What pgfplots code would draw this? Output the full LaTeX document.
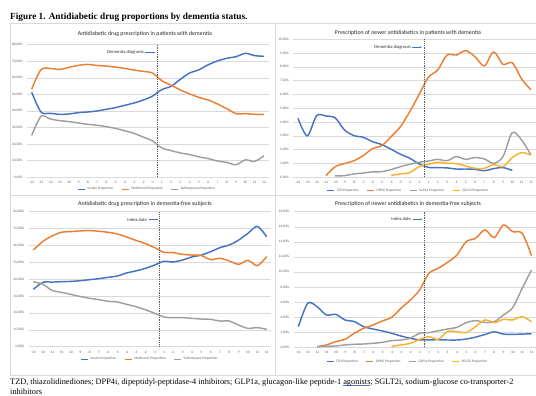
\documentclass[border=0pt]{standalone}
\usepackage{fontspec}
\setmainfont{Carlito}
\newfontfamily\timesfont{Liberation Serif}
\usepackage{pgfplots}
\pgfplotsset{compat=1.18}
\usetikzlibrary{arrows.meta}
\definecolor{xblue}{HTML}{4472C4}
\definecolor{xorange}{HTML}{ED7D31}
\definecolor{xgray}{HTML}{9E9E9E}
\definecolor{xgold}{HTML}{FBB02A}
\definecolor{xgrid}{HTML}{D9D9D9}
\definecolor{xtext}{HTML}{595959}
\definecolor{xframe}{HTML}{D9D9D9}
\definecolor{ulblue}{HTML}{5B6FC0}
\newsavebox{\ulbox}
\newcommand{\blueul}[1]{\sbox{\ulbox}{#1}\rlap{\textcolor{ulblue}{\rule[-1.4pt]{\wd\ulbox}{0.45pt}}}\usebox{\ulbox}}

\pgfplotsset{
  panel/.style={
    scale only axis, anchor=south west,
    xmin=-0.5, xmax=25.5, ymin=0,
    xtick={0,...,25},
    xticklabels={-14,-13,-12,-11,-10,-9,-8,-7,-6,-5,-4,-3,-2,-1,1,2,3,4,5,6,7,8,9,10,11,12},
    major tick length=0pt,
    axis line style={draw=none},
    ymajorgrids, grid style={xgrid, line width=0.45pt},
    tick label style={font=\fontsize{3.5}{4}\selectfont, text=xtext, inner sep=0pt},
    xticklabel style={yshift=-4pt},
    yticklabel style={xshift=-4.3pt},
    clip=false,
    every axis plot/.append style={line width=1.45pt, smooth, mark=none},
    legend style={draw=none, fill=none, font=\fontsize{3.5}{4}\selectfont, text=xtext,
      legend columns=-1, anchor=center, inner sep=0pt,
      /tikz/every even column/.append style={column sep=6pt}},
    legend image code/.code={\draw[#1, line width=1.1pt] (0pt,0pt) -- (7pt,0pt);},
  },
  pctA/.style={ymax=80, ytick={0,10,...,80},
    yticklabels={{0,00\%},{10,00\%},{20,00\%},{30,00\%},{40,00\%},{50,00\%},{60,00\%},{70,00\%},{80,00\%}}},
}
\newcommand{\charttitle}{\fontsize{5.9}{6.5}\selectfont\color{black!85}}
\newcommand{\annot}{\fontsize{4.6}{5}\selectfont\color{black!80}}

\begin{document}
\begin{tikzpicture}[x=1pt,y=1pt]
\path[use as bounding box] (0,0) rectangle (536,396);

% frames
\draw[xframe, line width=0.5pt] (10,373) -- (540,373);
\draw[xframe, line width=0.5pt] (10,201) -- (540,201);
\draw[xframe, line width=0.5pt] (10,21) -- (540,21);
\draw[xframe, line width=0.5pt] (10,373) -- (10,21);
\draw[xframe, line width=0.5pt] (275,373) -- (275,21);

% figure title
\node[anchor=base west, inner sep=0pt, font=\timesfont\bfseries\fontsize{9.3}{11}\selectfont] at (10,376) {Figure 1. Antidiabetic drug proportions by dementia status.};

% caption
\node[anchor=base west, inner sep=0pt, font=\timesfont\fontsize{8.3}{10}\selectfont] at (10,11.5) {TZD, thiazolidinediones; DPP4i, dipeptidyl-peptidase-4 inhibitors; GLP1a, glucagon-like peptide-1 \blueul{agonists}; SGLT2i, sodium-glucose co-transporter-2};
\node[anchor=base west, inner sep=0pt, font=\timesfont\fontsize{8.3}{10}\selectfont] at (10,1.8) {inhibitors};

% chart titles
\node[font=\charttitle] at (145,362) {Antidiabetic drug prescription in patients with dementia};
\node[font=\charttitle] at (408,363) {Prescription of newer antidiabetics in patients with dementia};
\node[font=\charttitle] at (145,191.7) {Antidiabetic drug prescription in dementia-free subjects};
\node[font=\charttitle] at (408,191.7) {Prescription of newer antidiabetics in dementia-free subjects};

% ---------------- top left
\begin{axis}[panel, pctA, at={(27.05pt,218.7pt)}, width=241.6pt, height=132.6pt,
  legend style={at={(0.497,0)}, yshift=-12pt}]
\addplot[xblue] coordinates {(0,51.3)(1,39.4)(2,38.6)(3,38.0)(4,38.2)(5,39.0)(6,39.4)(7,40.0)(8,41.0)(9,42.0)(10,43.4)(11,44.8)(12,46.6)(13,49.0)(14,52.9)(15,54.9)(16,59.1)(17,62.9)(18,64.9)(19,67.9)(20,70.2)(21,71.8)(22,72.8)(23,74.8)(24,73.4)(25,73.0)};
\addlegendentry{Insulin Proportion}
\addplot[xorange] coordinates {(0,53.3)(1,64.9)(2,65.7)(3,65.1)(4,66.3)(5,67.5)(6,68.1)(7,67.5)(8,67.1)(9,66.5)(10,65.7)(11,64.7)(12,63.9)(13,62.9)(14,58.3)(15,55.5)(16,52.7)(17,50.3)(18,48.2)(19,46.6)(20,44.2)(21,41.4)(22,38.4)(23,38.4)(24,38.0)(25,38.0)};
\addlegendentry{Metformin Proportion}
\addplot[xgray] coordinates {(0,25.3)(1,36.8)(2,35.2)(3,34.2)(4,33.6)(5,32.8)(6,32.0)(7,31.4)(8,30.6)(9,29.5)(10,28.1)(11,26.5)(12,24.3)(13,21.9)(14,17.7)(15,16.1)(16,14.7)(17,13.7)(18,12.3)(19,11.3)(20,9.8)(21,9.0)(22,7.6)(23,10.5)(24,9.6)(25,13.0)};
\addlegendentry{Sulfonylurea Proportion}
\draw[black!65, line width=0.45pt, dash pattern=on 1pt off 0.8pt] (axis cs:13.5,0) -- (axis cs:13.5,80);
\node[anchor=east, inner sep=0pt, font=\annot] at (axis cs:12.1,75.2) {Dementia diagnosis};
\draw[xblue, line width=0.4pt, -{Stealth[length=2pt,width=1.6pt]}] (axis cs:12.2,75.2) -- (axis cs:13.3,75.2);
\end{axis}

% ---------------- top right
\begin{axis}[panel, at={(293.3pt,218.7pt)}, width=242.3pt, height=138pt,
  ymax=10, ytick={0,1,...,10},
  yticklabels={{0,00\%},{1,00\%},{2,00\%},{3,00\%},{4,00\%},{5,00\%},{6,00\%},{7,00\%},{8,00\%},{9,00\%},{10,00\%}},
  legend style={at={(0.475,0)}, yshift=-13.4pt}]
\addplot[xblue] coordinates {(0,4.28)(1,3.0)(2,4.47)(3,4.44)(4,4.3)(5,3.43)(6,3.02)(7,2.9)(8,2.58)(9,2.37)(10,2.03)(11,1.67)(12,1.38)(13,0.97)(14,0.72)(15,0.70)(16,0.68)(17,0.60)(18,0.60)(19,0.58)(20,0.48)(21,0.63)(22,0.70)(23,0.50)};
\addlegendentry{TZD Proportion}
\addplot[xorange] coordinates {(3,0.12)(4,0.77)(5,1.0)(6,1.2)(7,1.57)(8,2.08)(9,2.3)(10,2.95)(11,3.67)(12,4.76)(13,6.0)(14,7.25)(15,7.78)(16,8.86)(17,8.86)(18,9.18)(19,8.74)(20,8.07)(21,9.08)(22,8.19)(23,8.3)(24,7.13)(25,6.33)};
\addlegendentry{DPP4i Proportion}
\addplot[xgray] coordinates {(4,0.1)(5,0.12)(6,0.24)(7,0.31)(8,0.39)(9,0.41)(10,0.56)(11,0.77)(12,0.94)(13,1.09)(14,1.18)(15,1.3)(16,1.2)(17,1.5)(18,1.3)(19,1.43)(20,1.33)(21,1.01)(22,1.5)(23,3.24)(24,2.7)(25,1.62)};
\addlegendentry{GLP1a Proportion}
\addplot[xgold] coordinates {(10,0.14)(11,0.24)(12,0.34)(13,0.77)(14,0.94)(15,1.09)(16,1.01)(17,0.99)(18,0.82)(19,0.65)(20,0.65)(21,0.92)(22,0.77)(23,1.43)(24,1.79)(25,1.62)};
\addlegendentry{SGLT2i Proportion}
\draw[black!65, line width=0.45pt, dash pattern=on 1pt off 0.8pt] (axis cs:13.5,0) -- (axis cs:13.5,10);
\node[anchor=east, inner sep=0pt, font=\annot] at (axis cs:12.15,9.44) {Dementia diagnosis};
\draw[xblue, line width=0.4pt, -{Stealth[length=2pt,width=1.6pt]}] (axis cs:12.25,9.44) -- (axis cs:13.3,9.44);
\end{axis}

% ---------------- bottom left
\begin{axis}[panel, pctA, at={(28.7pt,49.3pt)}, width=242.6pt, height=135pt,
  legend style={at={(0.5,0)}, yshift=-12.6pt}]
\addplot[xblue] coordinates {(0,34.0)(1,38.1)(2,38.3)(3,38.5)(4,38.7)(5,39.1)(6,39.7)(7,40.3)(8,41.1)(9,41.9)(10,43.7)(11,44.9)(12,46.4)(13,48.4)(14,50.6)(15,50.2)(16,51.4)(17,53.2)(18,54.3)(19,56.3)(20,58.7)(21,60.3)(22,63.2)(23,67.2)(24,71.3)(25,65.2)};
\addlegendentry{Insulin Proportion}
\addplot[xorange] coordinates {(0,57.3)(1,62.3)(2,65.6)(3,67.8)(4,68.2)(5,68.6)(6,68.8)(7,68.4)(8,67.8)(9,66.8)(10,65.0)(11,63.0)(12,61.1)(13,58.7)(14,55.9)(15,55.7)(16,54.7)(17,54.3)(18,54.0)(19,51.6)(20,52.4)(21,50.8)(22,48.8)(23,51.2)(24,48.0)(25,53.4)};
\addlegendentry{Metformin Proportion}
\addplot[xgray] coordinates {(0,38.5)(1,37.0)(2,33.4)(3,32.2)(4,31.0)(5,29.8)(6,28.7)(7,27.9)(8,26.9)(9,26.5)(10,25.1)(11,23.7)(12,21.9)(13,19.8)(14,17.6)(15,17.2)(16,17.2)(17,16.8)(18,16.4)(19,16.2)(20,15.2)(21,15.2)(22,12.8)(23,10.9)(24,11.3)(25,10.3)};
\addlegendentry{Sulfonylurea Proportion}
\draw[black!65, line width=0.45pt, dash pattern=on 1pt off 0.8pt] (axis cs:13.5,0) -- (axis cs:13.5,80);
\node[anchor=east, inner sep=0pt, font=\annot] at (axis cs:12.2,75.3) {Index date};
\draw[xblue, line width=0.4pt, -{Stealth[length=2pt,width=1.6pt]}] (axis cs:12.4,75.3) -- (axis cs:13.4,75.3);
\end{axis}

% ---------------- bottom right
\begin{axis}[panel, at={(293.7pt,48.7pt)}, width=242.5pt, height=135.6pt,
  ymax=18, ytick={0,2,...,18},
  yticklabels={{0,00\%},{2,00\%},{4,00\%},{6,00\%},{8,00\%},{10,00\%},{12,00\%},{14,00\%},{16,00\%},{18,00\%}},
  legend style={at={(0.47,0)}, yshift=-14.4pt}]
\addplot[xblue] coordinates {(0,2.74)(1,5.84)(2,5.4)(3,4.29)(4,4.38)(5,3.63)(6,3.41)(7,2.74)(8,2.43)(9,2.17)(10,1.86)(11,1.5)(12,1.19)(13,0.99)(14,0.99)(15,1.0)(16,0.97)(17,0.97)(18,1.1)(19,1.35)(20,1.7)(21,2.05)(22,1.75)(23,1.72)(24,1.75)(25,1.8)};
\addlegendentry{TZD Proportion}
\addplot[xorange] coordinates {(2,0.09)(3,0.31)(4,0.75)(5,1.06)(6,1.86)(7,2.52)(8,2.96)(9,3.5)(10,3.98)(11,5.18)(12,6.28)(13,7.61)(14,9.82)(15,10.49)(16,11.28)(17,12.26)(18,14.03)(19,14.47)(20,15.58)(21,14.56)(22,16.24)(23,15.35)(24,15.13)(25,12.17)};
\addlegendentry{DPP4i Proportion}
\addplot[xgray] coordinates {(2,0.09)(3,0.13)(4,0.18)(5,0.31)(6,0.4)(7,0.44)(8,0.53)(9,0.66)(10,0.88)(11,0.97)(12,1.2)(13,1.86)(14,1.95)(15,2.2)(16,2.43)(17,2.65)(18,3.27)(19,3.54)(20,3.3)(21,3.4)(22,4.3)(23,5.3)(24,7.83)(25,10.27)};
\addlegendentry{GLP1a Proportion}
\addplot[xgold] coordinates {(10,0.13)(11,0.31)(12,0.53)(13,1.06)(14,1.4)(15,1.06)(16,2.1)(17,2.08)(18,1.95)(19,2.74)(20,3.63)(21,3.27)(22,3.7)(23,3.63)(24,4.07)(25,3.4)};
\addlegendentry{SGLT2i Proportion}
\draw[black!65, line width=0.45pt, dash pattern=on 1pt off 0.8pt] (axis cs:13.5,0) -- (axis cs:13.5,18);
\node[anchor=east, inner sep=0pt, font=\annot] at (axis cs:12.1,17.0) {Index date};
\draw[xblue, line width=0.4pt, -{Stealth[length=2pt,width=1.6pt]}] (axis cs:12.25,17.0) -- (axis cs:13.3,17.0);
\end{axis}
\end{tikzpicture}
\end{document}
